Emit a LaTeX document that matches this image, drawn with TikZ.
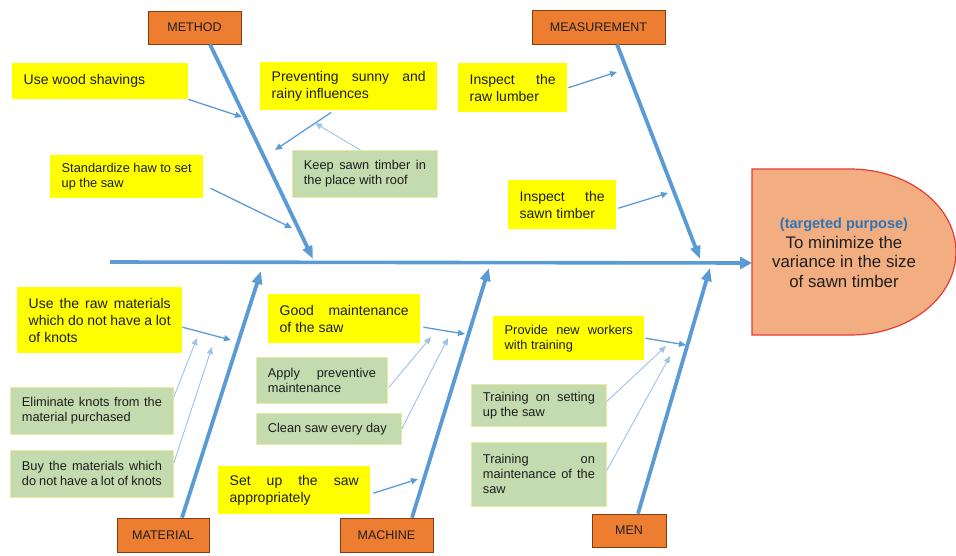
\documentclass[tikz,border=0pt]{standalone}
\usepackage{fontspec}
\setmainfont{Liberation Sans}
\usetikzlibrary{arrows.meta}

\definecolor{bone}{HTML}{5B9BD5}
\definecolor{lightbone}{HTML}{9DC3E6}
\definecolor{causey}{HTML}{FFFF00}
\definecolor{causeg}{HTML}{C3DBAE}
\definecolor{causegline}{HTML}{E6EDA2}
\definecolor{cat}{HTML}{ED7D31}
\definecolor{catline}{HTML}{843C0C}
\definecolor{headfill}{HTML}{F2AE80}
\definecolor{headline}{HTML}{E53B3B}
\definecolor{ink}{HTML}{1E1E1E}
\definecolor{purpose}{HTML}{2E75B6}

\tikzset{
  every node/.style={text=ink},
  cause/.style={anchor=north west, inner xsep=11.5pt, inner ysep=0pt, align=justify,
    font={\fontsize{14}{17}\selectfont\tolerance=10000 \hyphenpenalty=10000 }},
  smalltext/.style={font={\fontsize{12.8}{15}\selectfont\tolerance=10000 \hyphenpenalty=10000 }},
  ycause/.style={cause, fill=causey},
  gcause/.style={cause, smalltext, fill=causeg, draw=causegline, line width=0.8pt},
  category/.style={fill=cat, draw=catline, line width=0.7pt, inner sep=0pt,
    font={\fontsize{12.5}{14}\selectfont}},
  spinearrow/.style={draw=bone, line width=3.6pt, -{Triangle[length=12pt,width=12pt]}},
  bonearrow/.style={draw=bone, line width=3.8pt, -{Triangle[length=13pt,width=10pt]}},
  subarrow/.style={draw=bone, line width=1.3pt, -{Triangle[length=7pt,width=6pt]}},
  subsubarrow/.style={draw=lightbone, line width=0.9pt, -{Triangle[length=7pt,width=6pt]}},
}

\begin{document}
\begin{tikzpicture}[x=1pt, y=-1pt]
\useasboundingbox (0,0) rectangle (956,555);

% ---- effect (fish head) ----
\filldraw[fill=headfill, draw=headline, line width=1.2pt]
  (752,169) -- (850,169) arc[start angle=-90, end angle=90, x radius=106, y radius=83]
  -- (752,335) -- cycle;
\node[align=center, font={\fontsize{16.8}{19.5}\selectfont}] (goal) at (844,253)
  {{\fontsize{14.5}{19.5}\selectfont\bfseries\color{purpose}(targeted purpose)}\\
   To minimize the\\variance in the size\\of sawn timber};
\coordinate (spinetail) at (110,262);
\coordinate (spinetip) at (752,263);

% ---- categories ----
\node[category, minimum width=93pt, minimum height=33pt] (method) at (194.5,27.5) {METHOD};
\node[category, minimum width=133pt, minimum height=34pt] (measure) at (598.5,27) {MEASUREMENT};
\node[category, minimum width=92pt, minimum height=34pt] (material) at (163,535) {MATERIAL};
\node[category, minimum width=93pt, minimum height=34pt] (machine) at (386.5,535) {MACHINE};
\node[category, minimum width=74pt, minimum height=33pt] (men) at (629,530.5) {MEN};

% ---- spine and main bones ----
\coordinate (jmethod) at (313,259);
\coordinate (jmeasure) at (700,259);
\coordinate (jmaterial) at (261,271);
\coordinate (jmachine) at (489,268);
\coordinate (jmen) at (710,268);

\draw[spinearrow] (spinetail) -- (spinetip);
\draw[bonearrow] ([xshift=15.5pt]method.south) -- (jmethod);
\draw[bonearrow] ([xshift=18.5pt]measure.south) -- (jmeasure);
\draw[bonearrow] ([xshift=19pt]material.north) -- (jmaterial);
\draw[bonearrow] ([xshift=25.5pt]machine.north) -- (jmachine);
\draw[bonearrow] ([xshift=9pt]men.north) -- (jmen);

% ---- METHOD causes ----
\node[ycause, text width=153pt, minimum height=36pt] (wood) at (12,63) {Use wood shavings};
\node[ycause, text width=154pt, minimum height=48pt] (sun) at (260,62)
  {Preventing sunny and\linebreak rainy influences};
\node[gcause, text width=122pt, minimum height=47pt] (roof) at (292,150)
  {Keep sawn timber in\linebreak the place with roof};
\node[ycause, smalltext, text width=130pt, minimum height=43pt] (std) at (50,155)
  {Standardize haw to set\linebreak up the saw};

\coordinate (twood) at (242,117);
\coordinate (tsun) at (275,150);
\coordinate (troof) at (315,123);
\coordinate (tstd) at (292,228);
\draw[subarrow] (wood.south east) -- (twood);
\draw[subarrow] ([xshift=-17.5pt,yshift=-2pt]sun.south) -- (tsun);
\draw[subsubarrow] ([xshift=-4.5pt]roof.north) -- (troof);
\draw[subarrow] ([xshift=7pt,yshift=-11.5pt]std.east) -- (tstd);

% ---- MEASUREMENT causes ----
\node[ycause, text width=86pt, minimum height=49pt] (rawl) at (458,63)
  {Inspect the\linebreak raw lumber};
\node[ycause, text width=85pt, minimum height=49pt] (sawn) at (508,180)
  {Inspect the\linebreak sawn timber};
\coordinate (trawl) at (617,72);
\coordinate (tsawn) at (668,193);
\draw[subarrow] ([xshift=1pt]rawl.east) -- (trawl);
\draw[subarrow] ([xshift=2pt,yshift=-3.5pt]sawn.east) -- (tsawn);

% ---- MATERIAL causes ----
\node[ycause, text width=142pt, minimum height=66pt] (rawm) at (17,287)
  {Use the raw materials\linebreak which do not have a lot\linebreak of knots};
\node[gcause, text width=140pt, minimum height=47pt] (elim) at (10,387)
  {Eliminate knots from the\linebreak material purchased};
\node[gcause, text width=140pt, minimum height=47pt] (buy) at (10,450)
  {Buy the materials which\linebreak do not have a lot of knots};
\coordinate (trawm) at (231,340);
\coordinate (telim) at (197,338);
\coordinate (tbuy) at (212,347);
\draw[subarrow] ([yshift=-7pt]rawm.east) -- (trawm);
\draw[subsubarrow] ([yshift=-10pt]elim.north east) -- (telim);
\draw[subsubarrow] ([yshift=-13pt]buy.north east) -- (tbuy);

% ---- MACHINE causes ----
\node[ycause, text width=129pt, minimum height=49pt] (maint) at (268,294)
  {Good maintenance\linebreak of the saw};
\node[gcause, text width=108pt, minimum height=46pt] (prevent) at (256,357)
  {Apply preventive\linebreak maintenance};
\node[gcause, text width=122pt, minimum height=31pt] (clean) at (256,413)
  {Clean saw every day};
\node[ycause, text width=129pt, minimum height=48pt] (setup) at (218,466)
  {Set up the saw\linebreak appropriately};
\coordinate (tmaint) at (465,334);
\coordinate (tprevent) at (431,337);
\coordinate (tclean) at (448,338);
\coordinate (tsetup) at (418,479);
\draw[subarrow] ([xshift=3pt,yshift=-8.5pt]maint.east) -- (tmaint);
\draw[subsubarrow] ([xshift=1pt,yshift=-7pt]prevent.east) -- (tprevent);
\draw[subsubarrow] (clean.east) -- (tclean);
\draw[subarrow] ([xshift=3pt,yshift=-3pt]setup.east) -- (tsetup);

% ---- MEN causes ----
\node[ycause, smalltext, text width=128pt, minimum height=44pt] (newer) at (493,316)
  {Provide new workers\linebreak with training};
\node[gcause, text width=112pt, minimum height=42pt] (trset) at (471,384)
  {Training on setting\linebreak up the saw};
\node[gcause, text width=112pt, minimum height=64pt] (trmaint) at (471,442)
  {Training on\linebreak maintenance of the\linebreak saw};
\coordinate (tnewer) at (686,345);
\coordinate (ttrset) at (666,346);
\coordinate (ttrmaint) at (670,356);
\draw[subarrow] ([xshift=1pt]newer.east) -- (tnewer);
\draw[subsubarrow] ([yshift=4pt]trset.east) -- (ttrset);
\draw[subsubarrow] ([yshift=4pt]trmaint.east) -- (ttrmaint);
\end{tikzpicture}
\end{document}
